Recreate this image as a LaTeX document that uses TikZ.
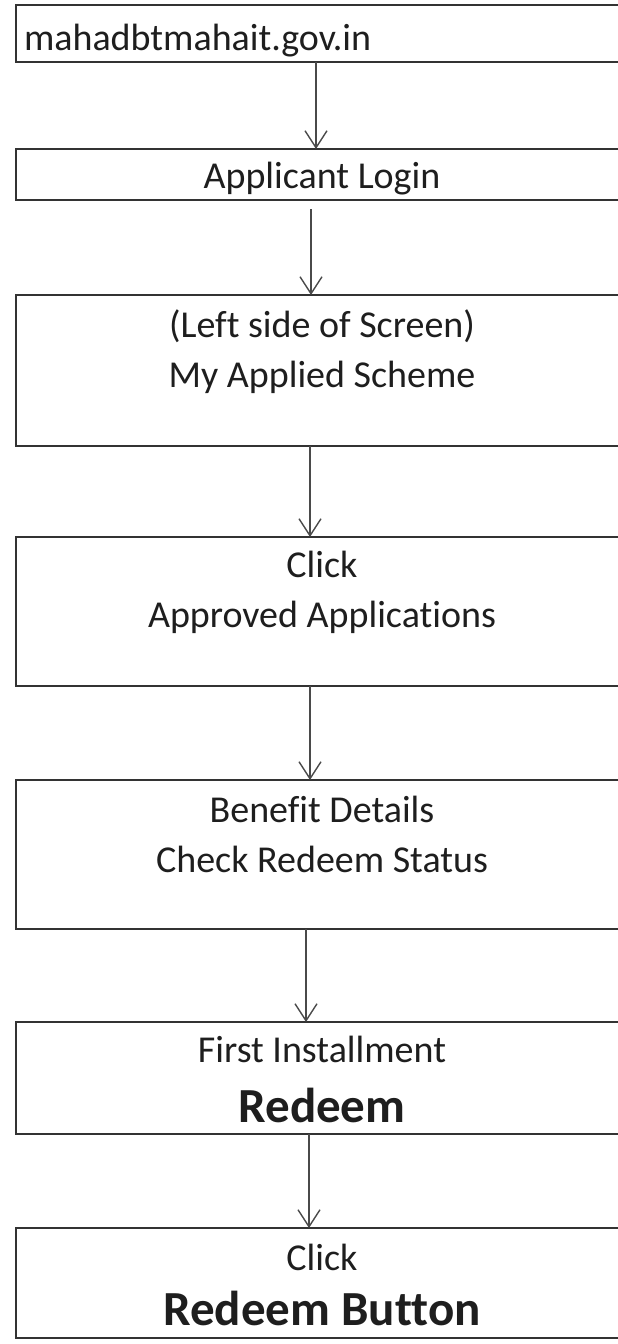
\documentclass[tikz,border=0pt]{standalone}
\usepackage{fontspec}
\setmainfont{Carlito}[Ligatures=NoCommon]
\usepackage{xcolor}
\usepackage{tikz}
\usetikzlibrary{arrows.meta, positioning}

\definecolor{boxline}{HTML}{333333}
\definecolor{arrowline}{HTML}{4A4A4A}
\definecolor{inktext}{HTML}{1E1E1E}

\begin{document}
\begin{tikzpicture}[
    x=1pt, y=1pt,
    block/.style={
        rectangle,
        draw=boxline,
        line width=2.4pt,
        text=inktext,
        minimum width=612pt,
        inner xsep=0pt,
        inner ysep=0pt,
        outer sep=0pt,
        align=center,
        font=\fontsize{38}{50}\selectfont
    },
    arrow/.style={
        -{Straight Barb[length=17pt,width=22pt]},
        line width=1.4pt,
        color=arrowline
    }
]
\useasboundingbox (0,0) rectangle (618,-1344);
\clip (0,0) rectangle (618,-1344);

% Website
\node[block, anchor=north, align=left, text width=596pt, inner xsep=8pt, text height=45pt, text depth=12pt] (site) at (322,-5) {mahadbtmahait.gov.in};

% Login
\node[block, below=87pt of site, text height=39pt, text depth=12pt] (login) {Applicant Login};

% Scheme list
\node[block, below=95pt of login, text height=92pt, text depth=59pt] (scheme) {(Left side of Screen)\\My Applied Scheme};

% Approved applications
\node[block, below=91pt of scheme, text height=90pt, text depth=59pt] (approved) {Click\\Approved Applications};

% Benefit details
\node[block, below=94pt of approved, text height=92pt, text depth=57pt] (benefit) {Benefit Details\\Check Redeem Status};

% First installment
\node[block, below=93pt of benefit, text height=100pt, text depth=12pt] (install) {First Installment\\[10pt]{\bfseries\fontsize{49}{50}\selectfont Redeem}};

% Redeem button
\node[block, below=94pt of install, text height=97pt, text depth=13pt] (button) {Click\\[5pt]{\bfseries\fontsize{49}{50}\selectfont Redeem Button}};

% Arrows
\draw[arrow] ([xshift=-6pt]site.south) -- ([xshift=-6pt]login.north);
\draw[arrow] ([xshift=-11pt, yshift=-9pt]login.south) -- ([xshift=-11pt]scheme.north);
\draw[arrow] ([xshift=-12pt]scheme.south) -- ([xshift=-12pt]approved.north);
\draw[arrow] ([xshift=-12pt]approved.south) -- ([xshift=-12pt]benefit.north);
\draw[arrow] ([xshift=-16pt]benefit.south) -- ([xshift=-16pt]install.north);
\draw[arrow] ([xshift=-13pt]install.south) -- ([xshift=-13pt]button.north);

\end{tikzpicture}
\end{document}
